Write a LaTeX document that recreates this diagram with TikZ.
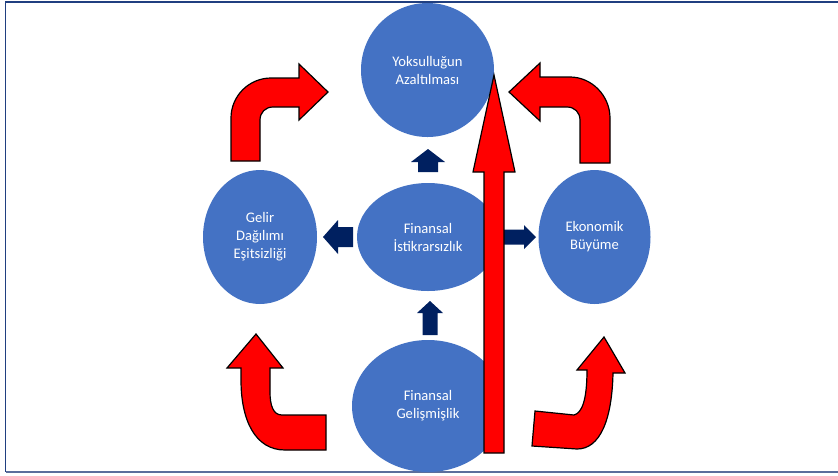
\documentclass[tikz,border=0pt]{standalone}
\usepackage{fontspec}
\setmainfont{Carlito}
\usetikzlibrary{shapes.geometric}
\definecolor{ellblue}{HTML}{4472C4}
\definecolor{navy}{HTML}{002060}
\definecolor{framebl}{HTML}{203F80}
\definecolor{framebot}{HTML}{5B6E9C}
\tikzset{
  bubble/.style={ellipse, fill=ellblue, draw=none, text=white, align=center,
    inner sep=0pt, font=\fontsize{14.6}{18}\selectfont},
  navyarrow/.style={fill=navy, draw=none},
  redarrow/.style={fill=red, draw=black, line width=1.2pt, line join=miter}
}
\begin{document}
\begin{tikzpicture}[x=1pt,y=-1pt]
\useasboundingbox (0,0) rectangle (838,475);
\fill[white] (0,0) rectangle (838,475);
% frame
\draw[framebl, line width=1.5pt] (838,1.8) -- (5.6,1.8) -- (5.6,472);
\draw[framebot, line width=1.6pt] (5.6,472) -- (838,472);

% ellipses
\node[bubble, minimum width=133pt, minimum height=134pt] (top) at (427.5,70) {Yoksulluğun\\Azaltılması};
\node[bubble, minimum width=114pt, minimum height=134pt] (left) at (260,237) {Gelir\\Dağılımı\\Eşitsizliği};
\node[bubble, minimum width=142pt, minimum height=108pt] (mid) at (428,237) {Finansal\\İstikrarsızlık};
\node[bubble, minimum width=112pt, minimum height=134pt] (right) at (594.5,237) {Ekonomik\\Büyüme};
\node[bubble, minimum width=152pt, minimum height=132pt] (bot) at (428,406) {Finansal\\Gelişmişlik};

% navy block arrows
\fill[navyarrow] (428,149) -- (445,162) -- (438,162) -- (438,172) -- (418,172) -- (418,162) -- (411,162) -- cycle;
\fill[navyarrow] (323,237) -- (338,220) -- (338,227) -- (353,227) -- (353,247) -- (338,247) -- (338,254) -- cycle;
\fill[navyarrow] (536,237) -- (524,225) -- (524,229.5) -- (497,229.5) -- (497,244.5) -- (524,244.5) -- (524,249) -- cycle;
\fill[navyarrow] (430,301) -- (443,313) -- (437.5,313) -- (437.5,335) -- (422.5,335) -- (422.5,313) -- (417,313) -- cycle;

% curved red arrows
\draw[redarrow] (231,161) -- (231,118) .. controls (231,96) and (249,78) .. (271,78)
  -- (299,78) -- (299,64) -- (328,92) -- (299,120) -- (299,107) -- (273,107)
  .. controls (265.4,107) and (260,112.4) .. (260,120) -- (260,161) -- cycle;
\draw[redarrow] (610,163) -- (610,118) .. controls (610,96) and (592,77) .. (570,77)
  -- (540,77) -- (540,63) -- (509,92) -- (540,121) -- (540,107) -- (567,107)
  .. controls (574.6,107) and (580,112.4) .. (580,120) -- (580,163) -- cycle;
\draw[redarrow] (256,334) -- (283,368) -- (270,368) -- (270,392)
  .. controls (270,405) and (273,415) .. (282,415) -- (326,415) -- (326,450) -- (285,450)
  .. controls (255,450) and (241,420) .. (241,380) -- (241,368) -- (227,368) -- cycle;
\draw[redarrow] (604,337) -- (625,373) -- (613,373) .. controls (612,420) and (600,449) .. (577,449)
  -- (532,446) -- (535,411) -- (574,415) .. controls (582,413) and (587,400) .. (587,370)
  -- (577,370) -- cycle;

% big red arrow
\draw[redarrow] (494,75) -- (515,172) -- (504,172) -- (504,453) -- (484,453) -- (484,172) -- (473,172) -- cycle;
\end{tikzpicture}
\end{document}
